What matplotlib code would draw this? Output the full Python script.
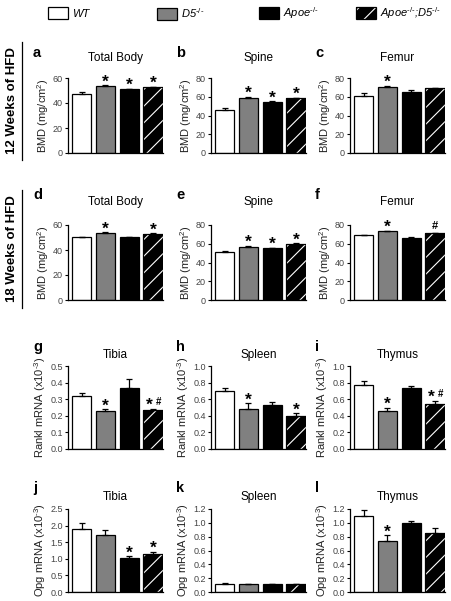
import matplotlib
matplotlib.use("Agg")
import matplotlib.pyplot as plt
import numpy as np
from matplotlib.patches import Patch
from matplotlib.lines import Line2D

plt.rcParams['font.family'] = ['Liberation Sans', 'DejaVu Sans']
plt.rcParams['mathtext.fontset'] = 'custom'
plt.rcParams['mathtext.rm'] = 'Liberation Sans'
plt.rcParams['mathtext.it'] = 'Liberation Sans:italic'
plt.rcParams['mathtext.bf'] = 'Liberation Sans:bold'
plt.rcParams['hatch.linewidth'] = 0.8

# groups and colours
groups = ['WT', r'D5$^{\text{-/-}}$', r'Apoe$^{\text{-/-}}$',
          r'Apoe$^{\text{-/-}}$;D5$^{\text{-/-}}$']
colors = ['white', '#808080', 'black', 'black']

# 12 weeks HFD, BMD (mg/cm2)
bmd12_total = [47.5, 53.5, 51.0, 52.5]
bmd12_total_sem = [1.0, 0.6, 0.5, 0.4]
bmd12_total_sig = ['', '*', '*', '*']
bmd12_spine = [46.0, 59.0, 54.5, 58.5]
bmd12_spine_sem = [1.5, 1.0, 0.8, 0.5]
bmd12_spine_sig = ['', '*', '*', '*']
bmd12_femur = [61.0, 70.5, 65.0, 69.0]
bmd12_femur_sem = [2.5, 1.0, 2.0, 0.5]
bmd12_femur_sig = ['', '*', '', '']

# 18 weeks HFD, BMD (mg/cm2)
bmd18_total = [50.5, 53.5, 50.5, 53.0]
bmd18_total_sem = [0.3, 0.6, 0.3, 0.4]
bmd18_total_sig = ['', '*', '', '*']
bmd18_spine = [51.0, 57.0, 55.5, 59.5]
bmd18_spine_sem = [1.0, 0.7, 0.5, 1.0]
bmd18_spine_sig = ['', '*', '*', '*']
bmd18_femur = [69.0, 73.5, 66.5, 71.0]
bmd18_femur_sem = [0.6, 0.6, 0.3, 0.6]
bmd18_femur_sig = ['', '*', '', '#']

# Rankl mRNA (x10-3)
rankl_tibia = [0.32, 0.23, 0.37, 0.235]
rankl_tibia_sem = [0.015, 0.01, 0.05, 0.006]
rankl_tibia_sig = ['', '*', '', '*#']
rankl_spleen = [0.70, 0.48, 0.53, 0.40]
rankl_spleen_sem = [0.03, 0.07, 0.04, 0.03]
rankl_spleen_sig = ['', '*', '', '*']
rankl_thymus = [0.77, 0.46, 0.73, 0.54]
rankl_thymus_sem = [0.045, 0.04, 0.03, 0.04]
rankl_thymus_sig = ['', '*', '', '*#']

# Opg mRNA (x10-3)
opg_tibia = [1.90, 1.72, 1.02, 1.15]
opg_tibia_sem = [0.18, 0.15, 0.05, 0.06]
opg_tibia_sig = ['', '', '*', '*']
opg_spleen = [0.12, 0.11, 0.11, 0.115]
opg_spleen_sem = [0.006, 0.005, 0.005, 0.006]
opg_spleen_sig = ['', '', '', '']
opg_thymus = [1.10, 0.74, 1.00, 0.85]
opg_thymus_sem = [0.09, 0.08, 0.03, 0.08]
opg_thymus_sig = ['', '*', '', '']

bmd_label = r'BMD (mg/cm$^2$)'
rankl_label = r'Rankl mRNA (x10$^{\text{-3}}$)'
opg_label = r'Opg mRNA (x10$^{\text{-3}}$)'

W, H = 452, 601
fig = plt.figure(figsize=(W / 100, H / 100), dpi=100)

col_left = [68, 211, 350]
col_width = 95
row_top = [78, 225, 366, 509]
row_bottom = [153, 300, 449, 592]
# (title offset, letter offset) above the axes, pixels
row_offsets = [(20, 25), (23, 30), (11, 19), (12, 21)]

panels = [
    [('a', 'Total Body', bmd_label, bmd12_total, bmd12_total_sem, bmd12_total_sig, 60, 20),
     ('b', 'Spine', bmd_label, bmd12_spine, bmd12_spine_sem, bmd12_spine_sig, 80, 20),
     ('c', 'Femur', bmd_label, bmd12_femur, bmd12_femur_sem, bmd12_femur_sig, 80, 20)],
    [('d', 'Total Body', bmd_label, bmd18_total, bmd18_total_sem, bmd18_total_sig, 60, 20),
     ('e', 'Spine', bmd_label, bmd18_spine, bmd18_spine_sem, bmd18_spine_sig, 80, 20),
     ('f', 'Femur', bmd_label, bmd18_femur, bmd18_femur_sem, bmd18_femur_sig, 80, 20)],
    [('g', 'Tibia', rankl_label, rankl_tibia, rankl_tibia_sem, rankl_tibia_sig, 0.5, 0.1),
     ('h', 'Spleen', rankl_label, rankl_spleen, rankl_spleen_sem, rankl_spleen_sig, 1.0, 0.2),
     ('i', 'Thymus', rankl_label, rankl_thymus, rankl_thymus_sem, rankl_thymus_sig, 1.0, 0.2)],
    [('j', 'Tibia', opg_label, opg_tibia, opg_tibia_sem, opg_tibia_sig, 2.5, 0.5),
     ('k', 'Spleen', opg_label, opg_spleen, opg_spleen_sem, opg_spleen_sig, 1.2, 0.2),
     ('l', 'Thymus', opg_label, opg_thymus, opg_thymus_sem, opg_thymus_sig, 1.2, 0.2)],
]


def draw_panel(ax, letter, title, ylabel, means, sems, sig, ymax, step, offs):
    x = np.arange(len(means))
    width = 0.8
    for i in range(len(means)):
        if i == 3:
            ax.bar(x[i], means[i], width, color='black', edgecolor='white',
                   hatch='//', linewidth=0, zorder=2)
            ax.bar(x[i], means[i], width, fill=False, edgecolor='black',
                   linewidth=0.9, zorder=3)
        else:
            ax.bar(x[i], means[i], width, color=colors[i], edgecolor='black',
                   linewidth=0.9, zorder=2)
    ax.errorbar(x, means, yerr=[np.zeros(len(sems)), sems], fmt='none',
                ecolor='black', elinewidth=0.9, capsize=2.5, capthick=0.9, zorder=4)
    for i, s in enumerate(sig):
        top = means[i] + sems[i]
        if s == '*':
            ax.annotate('*', (x[i], top), xytext=(0, -3), textcoords='offset points',
                        ha='center', va='bottom', fontsize=12.5, fontweight='bold')
        elif s == '#':
            ax.annotate('#', (x[i], top), xytext=(0, 1), textcoords='offset points',
                        ha='center', va='bottom', fontsize=8, fontweight='bold')
        elif s == '*#':
            ax.annotate('*', (x[i], top), xytext=(-2.5, -3), textcoords='offset points',
                        ha='center', va='bottom', fontsize=12.5, fontweight='bold')
            ax.annotate('#', (x[i], top), xytext=(3.8, 1.5), textcoords='offset points',
                        ha='center', va='bottom', fontsize=7, fontweight='bold')

    ax.set_xlim(-0.57, 3.42)
    ax.set_ylim(0, ymax)
    ticks = np.arange(0, ymax + step / 2, step)
    ax.set_yticks(ticks)
    if step < 1:
        ax.set_yticklabels([f'{t:.1f}' for t in ticks])
    else:
        ax.set_yticklabels([f'{t:.0f}' for t in ticks])
    ax.set_xticks([])
    for side in ['top', 'right']:
        ax.spines[side].set_visible(False)
    for side in ['left', 'bottom']:
        ax.spines[side].set_linewidth(0.9)
    ax.tick_params(axis='y', length=2.5, width=0.8, labelsize=6.5, pad=1.2,
                   labelcolor='#444444')
    ax.set_ylabel(ylabel, fontsize=8, labelpad=1.5, color='#222222')

    ax.annotate(title, (0.5, 1), xycoords='axes fraction', xytext=(0, offs[0] * 0.72),
                textcoords='offset points', ha='center', va='center', fontsize=8.5)
    ax.annotate(letter, (0, 1), xycoords='axes fraction',
                xytext=(-35 * 0.72, offs[1] * 0.72), textcoords='offset points',
                ha='left', va='center', fontsize=10.5, fontweight='bold')


for r, row in enumerate(panels):
    for c, p in enumerate(row):
        left = col_left[c] / W
        bottom = 1 - row_bottom[r] / H
        height = (row_bottom[r] - row_top[r]) / H
        ax = fig.add_axes([left, bottom, col_width / W, height])
        draw_panel(ax, *p, row_offsets[r])

# side labels
for label, y0, y1 in [('12 Weeks of HFD', 42, 160), ('18 Weeks of HFD', 190, 308)]:
    fig.text(12 / W, 1 - (y0 + y1) / 2 / H, label, rotation=90, fontsize=9.5,
             fontweight='bold', ha='center', va='center')
    fig.add_artist(Line2D([22 / W, 22 / W], [1 - y0 / H, 1 - y1 / H],
                          color='black', lw=0.9))

# legend
hatch_handle = (Patch(facecolor='black', edgecolor='white', hatch='//', linewidth=0),
                Patch(facecolor='none', edgecolor='black', linewidth=0.9))
handles = [Patch(facecolor='white', edgecolor='black', linewidth=0.9),
           Patch(facecolor='#808080', edgecolor='black', linewidth=0.9),
           Patch(facecolor='black', edgecolor='black', linewidth=0.9),
           hatch_handle]
leg_x = [48, 157, 259, 356]
for hx, h, g in zip(leg_x, handles, groups):
    fig.legend([h], [g], loc='center left', bbox_to_anchor=(hx / W, 1 - 13 / H),
               frameon=False, prop={'size': 8, 'style': 'italic'},
               handlelength=1.8, handleheight=1.2,
               handletextpad=0.4, borderpad=0, borderaxespad=0)

fig.savefig('out.png', dpi=100)
